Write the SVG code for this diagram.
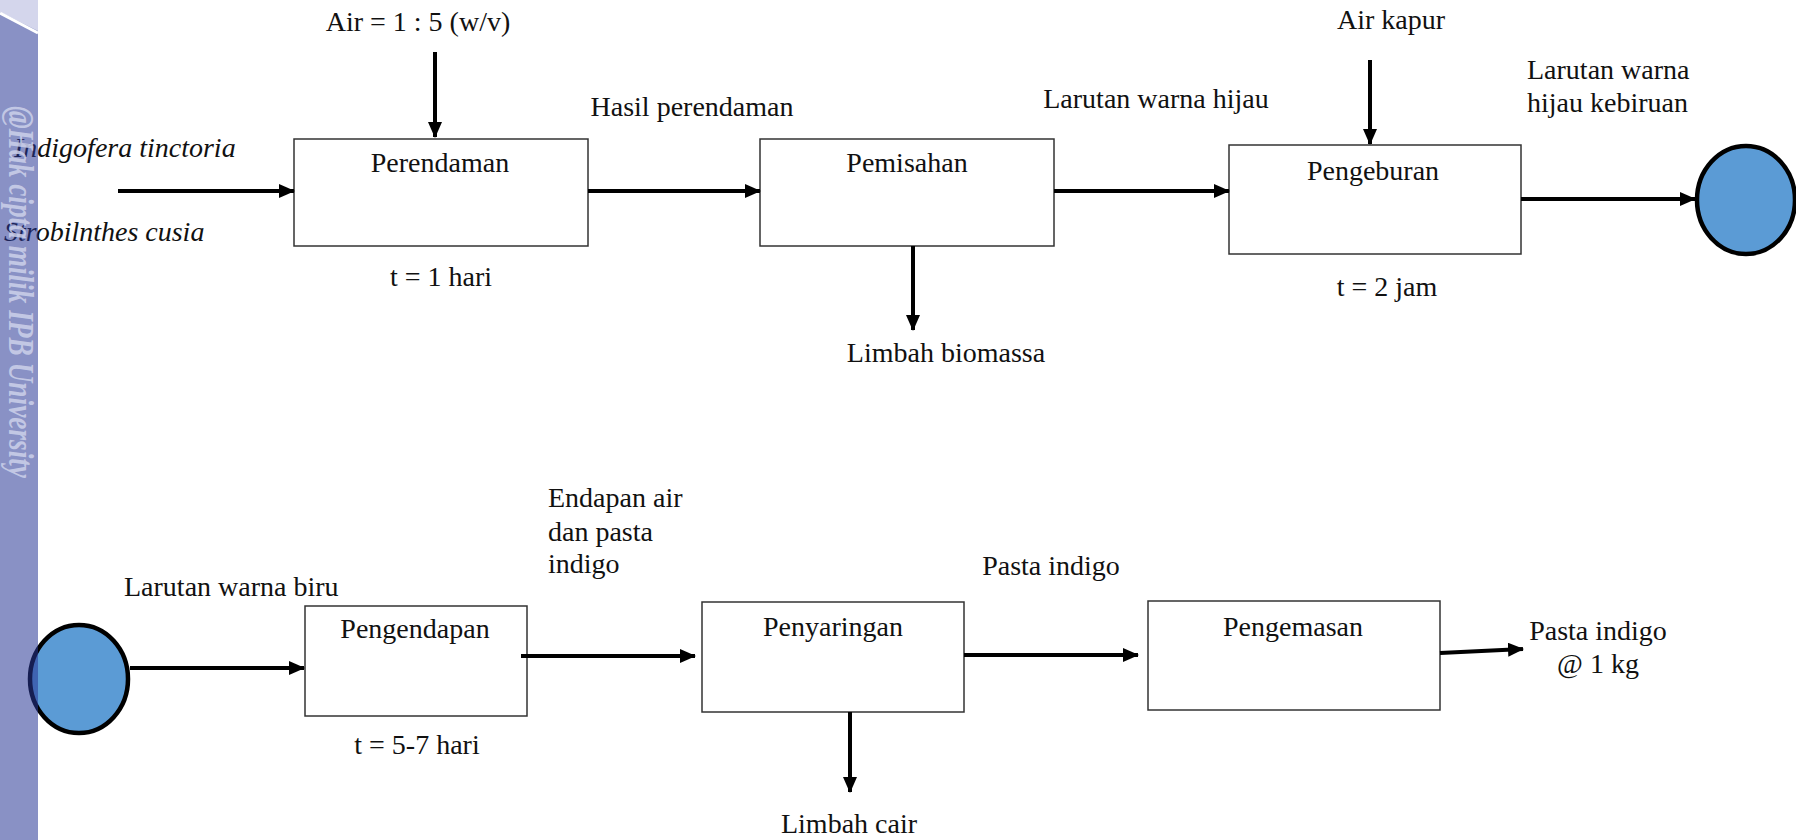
<svg xmlns="http://www.w3.org/2000/svg" width="1796" height="840" viewBox="0 0 1796 840" font-family="'Liberation Serif','Times New Roman','DejaVu Serif',serif">
<style>
text{font-family:'Liberation Serif','Times New Roman','DejaVu Serif',serif;font-size:28px;fill:#111}
.c{text-anchor:middle}
.i{font-style:italic}
.box{fill:#fff;stroke:#333;stroke-width:1.5}
.arr{stroke:#000;stroke-width:4;fill:none;marker-end:url(#ah)}
.circ{fill:#5B9BD5;stroke:#000;stroke-width:4.5}
</style>
<defs>
<marker id="ah" markerUnits="userSpaceOnUse" markerWidth="16" markerHeight="14" refX="15" refY="7" orient="auto">
<path d="M0,0 L16,7 L0,14 Z" fill="#000"/>
</marker>
</defs>
<rect width="1796" height="840" fill="#fff"/>

<g id="labels">
<text class="c" x="418" y="31">Air  = 1 : 5 (w/v)</text>
<text class="i" x="14" y="157">Indigofera tinctoria</text>
<text class="i" x="4" y="241">Strobilnthes cusia</text>
<text class="c" x="692" y="116">Hasil perendaman</text>
<text class="c" x="946" y="362">Limbah biomassa</text>
<text class="c" x="1156" y="108">Larutan warna hijau</text>
<text class="c" x="1391" y="29">Air kapur</text>
<text x="1527" y="79">Larutan warna</text>
<text x="1527" y="112">hijau kebiruan</text>
<text x="124" y="596">Larutan warna biru</text>
<text x="548" y="507">Endapan air</text>
<text x="548" y="541">dan pasta</text>
<text x="548" y="573">indigo</text>
<text class="c" x="1051" y="575">Pasta indigo</text>
<text class="c" x="849" y="833">Limbah cair</text>
<text class="c" x="1598" y="640">Pasta indigo</text>
<text class="c" x="1598" y="673">@ 1 kg</text>
</g>

<g id="perendaman">
<rect class="box" x="294" y="139" width="294" height="107"/>
<text class="c" x="440" y="172">Perendaman</text>
<text class="c" x="441" y="286">t = 1 hari</text>
</g>
<g id="pemisahan">
<rect class="box" x="760" y="139" width="294" height="107"/>
<text class="c" x="907" y="172">Pemisahan</text>
</g>
<g id="pengeburan">
<rect class="box" x="1229" y="145" width="292" height="109"/>
<text class="c" x="1373" y="180">Pengeburan</text>
<text class="c" x="1387" y="296">t = 2 jam</text>
</g>
<g id="connector-a-top">
<ellipse class="circ" cx="1746" cy="200" rx="49" ry="54"/>
</g>
<g id="connector-a-bottom">
<ellipse class="circ" cx="79" cy="679" rx="49" ry="54"/>
</g>
<g id="pengendapan">
<rect class="box" x="305" y="606" width="222" height="110"/>
<text class="c" x="415" y="638">Pengendapan</text>
<text class="c" x="417" y="754">t =  5-7 hari</text>
</g>
<g id="penyaringan">
<rect class="box" x="702" y="602" width="262" height="110"/>
<text class="c" x="833" y="636">Penyaringan</text>
</g>
<g id="pengemasan">
<rect class="box" x="1148" y="601" width="292" height="109"/>
<text class="c" x="1293" y="636">Pengemasan</text>
</g>

<g id="connectors">
<line class="arr" x1="118" y1="191" x2="294" y2="191"/>
<line class="arr" x1="435" y1="52" x2="435" y2="137"/>
<line class="arr" x1="588" y1="191" x2="760" y2="191"/>
<line class="arr" x1="913" y1="246" x2="913" y2="330"/>
<line class="arr" x1="1054" y1="191" x2="1229" y2="191"/>
<line class="arr" x1="1370" y1="60" x2="1370" y2="144"/>
<line class="arr" x1="1521" y1="199" x2="1695" y2="199"/>
<line class="arr" x1="130" y1="668" x2="304" y2="668"/>
<line class="arr" x1="521" y1="656" x2="695" y2="656"/>
<line class="arr" x1="850" y1="712" x2="850" y2="792"/>
<line class="arr" x1="964" y1="655" x2="1138" y2="655"/>
<line class="arr" x1="1440" y1="653" x2="1523" y2="649"/>
</g>

<g id="watermark">
<rect x="0" y="0" width="38" height="840" fill="#283796" fill-opacity="0.55"/>
<polygon points="0,0 38,0 38,31 0,12" fill="#D4D6EC"/>
<line x1="0" y1="13" x2="38" y2="33" stroke="#fff" stroke-width="3"/>
<text x="9" y="106" transform="rotate(90 9 106)" textLength="372" lengthAdjust="spacingAndGlyphs" style="font-size:36px;font-weight:bold;font-style:italic;fill:#CDD1EA;fill-opacity:0.85">@Hak cipta milik IPB University</text>
</g>
</svg>
